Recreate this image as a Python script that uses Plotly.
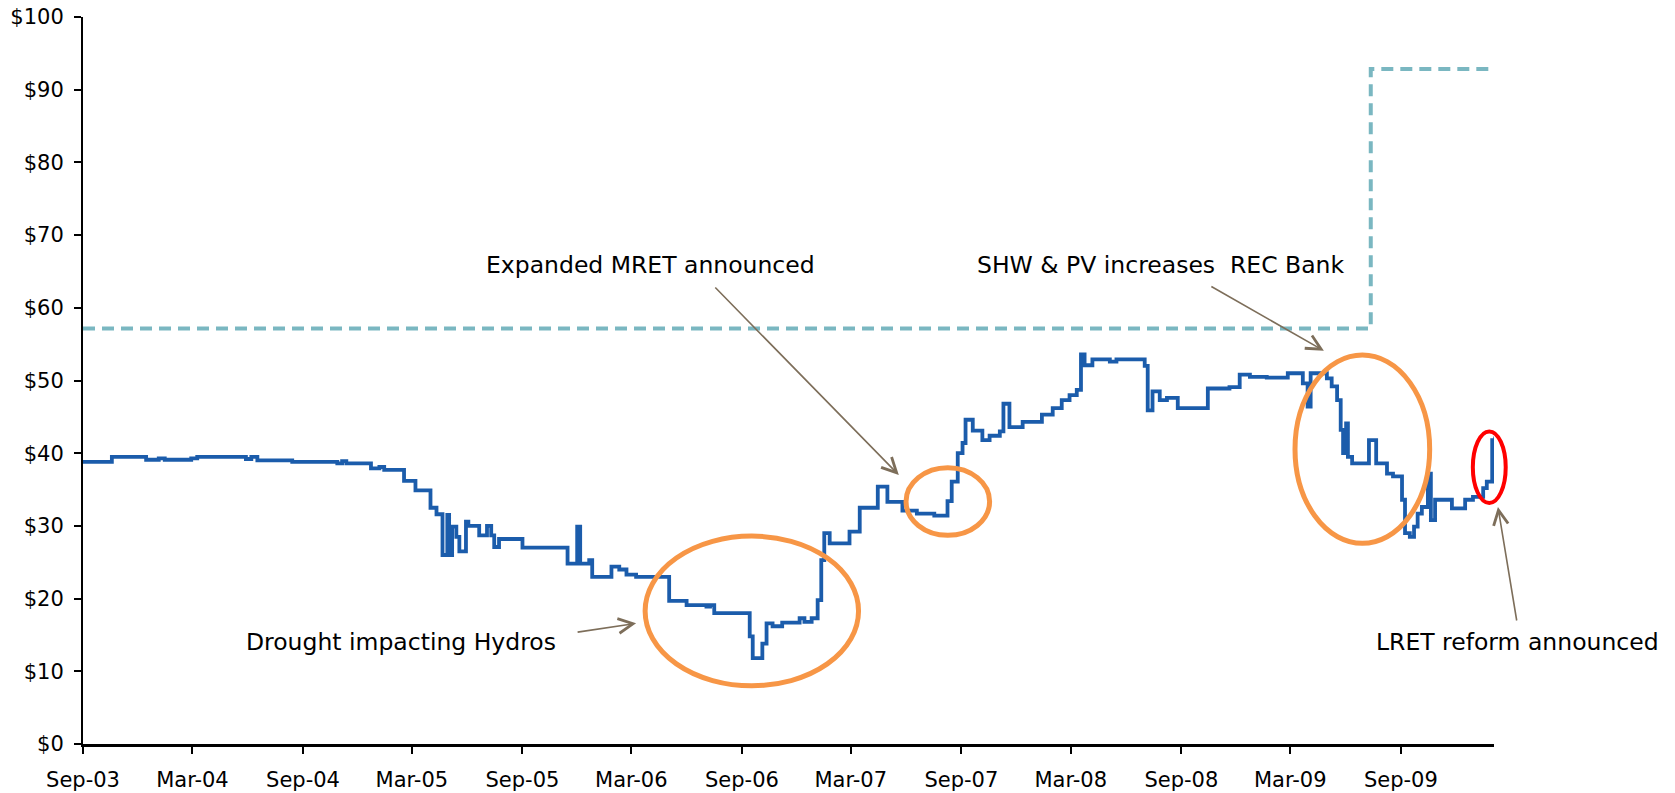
"""
REC spot price history, Sep-03 to early 2010, with the shortfall charge
(tax-effective) and the market events annotated.
"""

import plotly.graph_objects as go


# REC spot price: dates where the price changes, and the new price ($)
REC_DATES = [
    '2003-09-01', '2003-10-19', '2003-12-15', '2004-01-05', '2004-01-15', '2004-02-28',
    '2004-03-09', '2004-05-29', '2004-06-07', '2004-06-17', '2004-08-14', '2004-10-28',
    '2004-11-05', '2004-11-12', '2004-12-23', '2005-01-06', '2005-01-14', '2005-02-16',
    '2005-03-07', '2005-04-01', '2005-04-11', '2005-04-21', '2005-04-29', '2005-05-02',
    '2005-05-07', '2005-05-14', '2005-05-19', '2005-05-30', '2005-06-03', '2005-06-21',
    '2005-07-04', '2005-07-11', '2005-07-16', '2005-07-24', '2005-09-01', '2005-11-15',
    '2005-12-01', '2005-12-06', '2005-12-21', '2005-12-26', '2006-01-27', '2006-02-09',
    '2006-02-21', '2006-03-09', '2006-05-03', '2006-06-01', '2006-07-04', '2006-07-10',
    '2006-07-17', '2006-09-14', '2006-09-19', '2006-10-05', '2006-10-12', '2006-10-22',
    '2006-11-07', '2006-12-06', '2006-12-14', '2006-12-26', '2007-01-05', '2007-01-11',
    '2007-01-16', '2007-01-25', '2007-02-27', '2007-03-16', '2007-04-15', '2007-05-01',
    '2007-05-26', '2007-06-19', '2007-07-18', '2007-08-09', '2007-08-16', '2007-08-26',
    '2007-09-03', '2007-09-08', '2007-09-20', '2007-10-06', '2007-10-18', '2007-11-04',
    '2007-11-10', '2007-11-20', '2007-12-12', '2008-01-13', '2008-01-31', '2008-02-15',
    '2008-02-28', '2008-03-11', '2008-03-18', '2008-03-24', '2008-04-06', '2008-05-05',
    '2008-05-16', '2008-07-02', '2008-07-07', '2008-07-15', '2008-07-27', '2008-08-08',
    '2008-08-26', '2008-10-15', '2008-11-20', '2008-12-07', '2008-12-24', '2009-01-21',
    '2009-02-25', '2009-03-22', '2009-03-30', '2009-04-04', '2009-05-01', '2009-05-09',
    '2009-05-18', '2009-05-24', '2009-05-28', '2009-06-02', '2009-06-05', '2009-06-12',
    '2009-07-10', '2009-07-22', '2009-08-09', '2009-08-19', '2009-09-03', '2009-09-08',
    '2009-09-16', '2009-09-23', '2009-09-29', '2009-10-06', '2009-10-16', '2009-10-21',
    '2009-10-28', '2009-11-25', '2009-12-17', '2009-12-30', '2010-01-16', '2010-01-22',
    '2010-01-31', '2010-02-05',
]
REC_PRICE = [
    38.8, 39.5, 39.1, 39.3, 39.1, 39.3,
    39.5, 39.2, 39.5, 39.0, 38.8, 38.6,
    38.9, 38.6, 37.9, 38.1, 37.7, 36.2,
    34.9, 32.5, 31.6, 26.0, 31.5, 26.0,
    29.9, 28.5, 26.5, 30.6, 30.0, 28.7,
    30.0, 28.7, 27.1, 28.2, 27.0, 24.8,
    29.9, 24.8, 25.3, 23.0, 24.4, 24.0,
    23.3, 23.0, 19.7, 19.1, 18.9, 19.1,
    18.0, 14.8, 11.8, 13.8, 16.6, 16.2,
    16.7, 17.3, 16.8, 17.3, 19.8, 25.3,
    29.0, 27.6, 29.2, 32.5, 35.4, 33.3,
    32.1, 31.7, 31.4, 33.4, 36.1, 40.0,
    41.4, 44.6, 43.1, 41.8, 42.4, 43.0,
    46.8, 43.6, 44.3, 45.3, 46.2, 47.3,
    48.0, 48.7, 53.6, 52.1, 52.9, 52.6,
    52.9, 52.0, 45.9, 48.5, 47.3, 47.6,
    46.2, 48.9, 49.1, 50.8, 50.5, 50.4,
    51.0, 49.6, 46.4, 51.0, 50.3, 49.2,
    47.3, 43.2, 40.0, 44.1, 39.5, 38.6,
    41.8, 38.6, 37.2, 36.8, 33.6, 29.0,
    28.5, 29.9, 31.7, 32.6, 37.2, 30.8,
    33.6, 32.4, 33.6, 34.0, 35.2, 36.1,
    41.8, 42.3,
]

# Shortfall charge, tax-effective ($40 / 0.7, then $65 / 0.7)
CAP_DATES = ['2003-09-01', '2009-07-13', '2009-07-13', '2010-02-03']
CAP_PRICE = [57.14, 57.14, 92.86, 92.86]

TICK_DATES = ['2003-09-01', '2004-03-01', '2004-09-01', '2005-03-01', '2005-09-01',
              '2006-03-01', '2006-09-01', '2007-03-01', '2007-09-01', '2008-03-01',
              '2008-09-01', '2009-03-01', '2009-09-01']
TICK_LABELS = ['Sep-03', 'Mar-04', 'Sep-04', 'Mar-05', 'Sep-05', 'Mar-06', 'Sep-06',
               'Mar-07', 'Sep-07', 'Mar-08', 'Sep-08', 'Mar-09', 'Sep-09']
Y_TICKS = [0, 10, 20, 30, 40, 50, 60, 70, 80, 90, 100]
Y_LABELS = ['$' + str(v) for v in Y_TICKS]

FONT = 'DejaVu Sans'
ARROW_COLOR = '#7d6e5a'
ORANGE = '#f79646'


fig = go.Figure()

fig.add_trace(go.Scatter(
    x=CAP_DATES, y=CAP_PRICE,
    mode='lines', cliponaxis=False,
    line=dict(color='#7ab7c1', width=4, dash='12px,7px'),
    hoverinfo='skip', showlegend=False,
))

fig.add_trace(go.Scatter(
    x=REC_DATES, y=REC_PRICE,
    mode='lines', line_shape='hv',
    line=dict(color='#1b5cab', width=3.8),
    showlegend=False,
))

# event text
for text, x, y in [
    ('Expanded MRET announced', '2005-06-29', 65.9),
    ('SHW &amp; PV increases\u00a0 REC Bank', '2007-09-23', 65.9),
    ('Drought impacting Hydros', '2004-05-26', 14.0),
    ('LRET reform announced', '2009-07-18', 14.0),
]:
    fig.add_annotation(x=x, y=y, text=text, showarrow=False,
                       xanchor='left', yanchor='middle',
                       font=dict(family=FONT, size=23.5, color='black'))

# arrows: head in data coords, tail as pixel offset
for x, y, ax, ay, ref in [
    ('2007-05-20', 37.0, -185, -189, 'data'),
    ('2009-04-26', 54.1, -114, -65, 'data'),
    ('2006-03-09', 16.6, -60, 9, 'data'),
    (1.0028, 0.326, 19, 115, 'paper'),
]:
    fig.add_annotation(
        x=x, y=y, ax=ax, ay=ay, text='',
        xref='paper' if ref == 'paper' else 'x',
        yref='paper' if ref == 'paper' else 'y',
        showarrow=True, arrowhead=5, arrowsize=1.8, arrowwidth=1.6,
        arrowcolor=ARROW_COLOR, standoff=0, startstandoff=0,
    )

# circled regions
for x0, x1, y0, y1 in [
    ('2006-03-24', '2007-03-14', 8.0, 28.6),
    ('2007-06-01', '2007-10-18', 28.7, 38.0),
    ('2009-03-09', '2009-10-19', 27.6, 53.5),
]:
    fig.add_shape(type='circle', xref='x', yref='y', x0=x0, x1=x1, y0=y0, y1=y1,
                  line=dict(color=ORANGE, width=5))

fig.add_shape(type='circle', xref='paper', yref='paper',
              x0=0.985, x1=1.0083, y0=0.3315, y1=0.430,
              line=dict(color='#ff0000', width=4))

fig.update_layout(
    width=1675, height=793,
    margin=dict(l=83, r=181, t=17, b=49),
    plot_bgcolor='white', paper_bgcolor='white',
    font=dict(family=FONT, size=21, color='black'),
    hovermode=False,
)

fig.update_xaxes(
    type='date',
    range=['2003-09-01', '2010-02-03'],
    tickvals=TICK_DATES, ticktext=TICK_LABELS,
    showline=True, linecolor='black', linewidth=3,
    ticks='outside', ticklen=7, tickwidth=2, tickcolor='black',
    ticklabelstandoff=8, automargin=False,
    showgrid=False, zeroline=False,
)

fig.update_yaxes(
    range=[0, 100],
    tickvals=Y_TICKS, ticktext=Y_LABELS,
    showline=True, linecolor='black', linewidth=2,
    ticks='outside', ticklen=7, tickwidth=2, tickcolor='black',
    ticklabelstandoff=6, automargin=False,
    showgrid=False, zeroline=False,
)

# drop the page's default 8px body margin so the figure fills the window
fig.write_html("out.html", config={'displayModeBar': False},
               post_script="document.body.style.margin='0';document.body.style.overflow='hidden';")
